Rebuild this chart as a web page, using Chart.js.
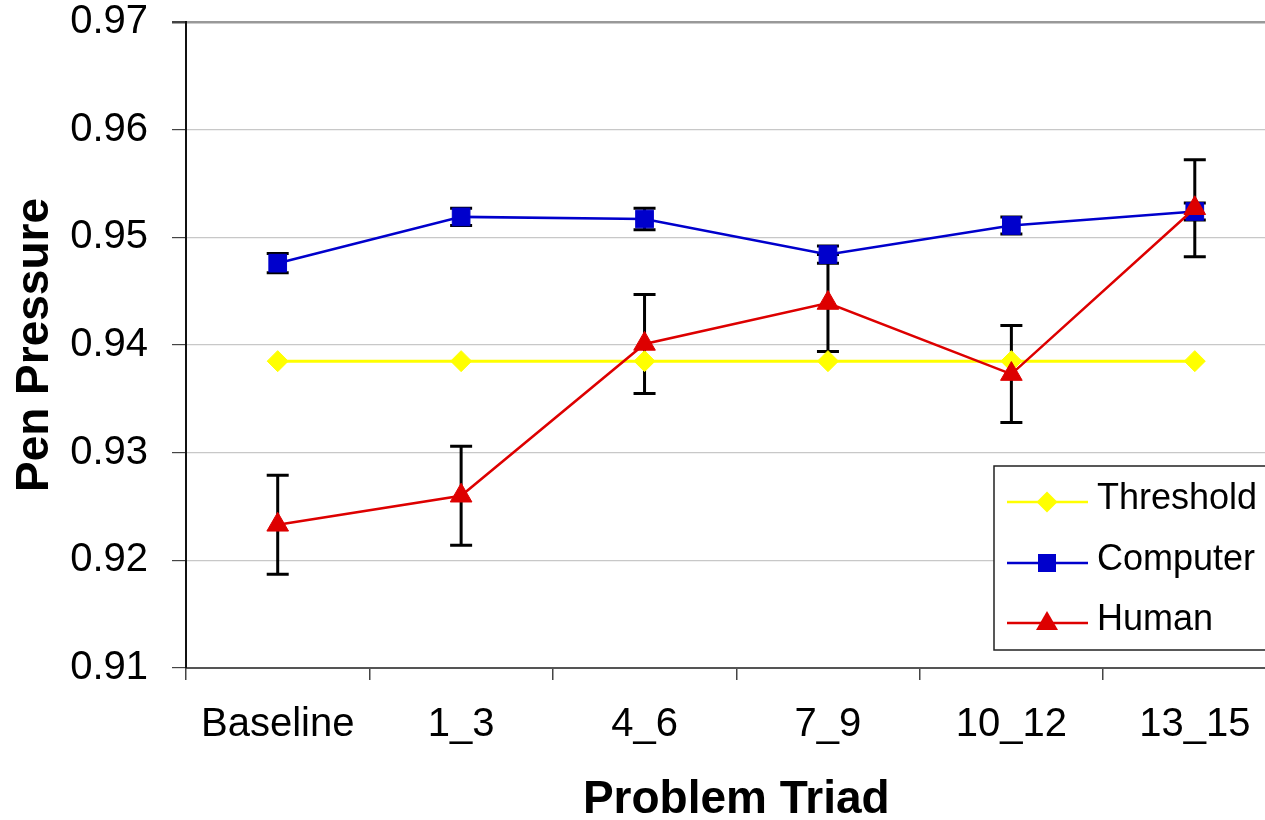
<!DOCTYPE html>
<html>
<head>
<meta charset="utf-8">
<script src="https://cdn.jsdelivr.net/npm/chart.js@4/dist/chart.umd.min.js"></script>
<style>
  html, body { margin: 0; padding: 0; overflow: hidden; background: #fff; width: 1265px; height: 820px; }
  canvas { display: block; }
</style>
</head>
<body>
<canvas id="c" width="1300" height="820" style="width:1300px;height:820px"></canvas>
<script>
// ---- data ----
const categories = ['Baseline', '1_3', '4_6', '7_9', '10_12', '13_15'];
const seriesNames = ['Threshold', 'Computer', 'Human'];
const thresholdValues = [0.9385, 0.9385, 0.9385, 0.9385, 0.9385, 0.9385];
const computerValues = [0.9476, 0.9519, 0.9517, 0.9484, 0.9511, 0.9524];
const computerErrors = [0.0009, 0.0008, 0.0010, 0.0008, 0.0008, 0.0008];
const humanValues = [0.9233, 0.9260, 0.9401, 0.9439, 0.9373, 0.9527];
const humanErrors = [0.0046, 0.0046, 0.0046, 0.0045, 0.0045, 0.0045];
const yTickValues = [0.91, 0.92, 0.93, 0.94, 0.95, 0.96, 0.97];
const xTitle = 'Problem Triad';
const yTitle = 'Pen Pressure';

const FONT = "'Liberation Sans', Arial, sans-serif";
const YELLOW = '#FFFF00', BLUE = '#0000CC', RED = '#DD0000';

const errorBarPlugin = {
  id: 'errorBars',
  beforeDatasetsDraw(chart) {
    const ctx = chart.ctx;
    const xs = chart.scales.x, ys = chart.scales.y;
    ctx.save();
    ctx.strokeStyle = '#000';
    ctx.lineWidth = 3;
    chart.data.datasets.forEach(ds => {
      if (!ds.errors) return;
      ds.data.forEach((v, i) => {
        const e = ds.errors[i];
        const x = xs.getPixelForValue(i);
        const y1 = ys.getPixelForValue(v + e);
        const y2 = ys.getPixelForValue(v - e);
        ctx.beginPath();
        ctx.moveTo(x, y1); ctx.lineTo(x, y2);
        ctx.moveTo(x - 11, y1); ctx.lineTo(x + 11, y1);
        ctx.moveTo(x - 11, y2); ctx.lineTo(x + 11, y2);
        ctx.stroke();
      });
    });
    ctx.restore();
  }
};

function drawMarker(ctx, style, x, y, color) {
  ctx.fillStyle = color;
  ctx.beginPath();
  if (style === 'rectRot') {
    const r = 10.5;
    ctx.moveTo(x - r, y); ctx.lineTo(x, y - r); ctx.lineTo(x + r, y); ctx.lineTo(x, y + r);
  } else if (style === 'rect') {
    ctx.rect(x - 9, y - 9, 18, 18);
  } else {
    ctx.moveTo(x, y - 12); ctx.lineTo(x + 11, y + 7); ctx.lineTo(x - 11, y + 7);
  }
  ctx.closePath();
  ctx.fill();
}

const legendPlugin = {
  id: 'boxLegend',
  afterDraw(chart) {
    const ctx = chart.ctx;
    ctx.save();
    const bx = 994, by = 466, bw = 400, bh = 184;
    ctx.fillStyle = '#fff';
    ctx.fillRect(bx, by, bw, bh);
    ctx.strokeStyle = '#222';
    ctx.lineWidth = 1.5;
    ctx.strokeRect(bx, by, bw, bh);
    const order = [2, 1, 0]; // dataset indices for Threshold, Computer, Human
    const rowY = [502, 563, 623];
    order.forEach((di, k) => {
      const ds = chart.data.datasets[di];
      const y = rowY[k];
      ctx.strokeStyle = ds.borderColor;
      ctx.lineWidth = 2.5;
      ctx.beginPath();
      ctx.moveTo(1007, y); ctx.lineTo(1088, y);
      ctx.stroke();
      drawMarker(ctx, ds.pointStyle, 1047, y, ds.pointBackgroundColor);
      ctx.fillStyle = '#000';
      ctx.font = '36px ' + FONT;
      ctx.textAlign = 'left';
      ctx.textBaseline = 'middle';
      ctx.fillText(ds.label, 1097, y - 3);
    });
    ctx.restore();
  }
};

new Chart(document.getElementById('c'), {
  type: 'line',
  data: {
    labels: categories,
    datasets: [
      {
        label: seriesNames[2], data: humanValues, errors: humanErrors, order: 1,
        borderColor: RED, backgroundColor: RED, borderWidth: 2.5,
        pointStyle: 'triangle', pointRadius: 12.5, pointBackgroundColor: RED, pointBorderColor: RED, pointBorderWidth: 1,
        tension: 0
      },
      {
        label: seriesNames[1], data: computerValues, errors: computerErrors, order: 2,
        borderColor: BLUE, backgroundColor: BLUE, borderWidth: 2.5,
        pointStyle: 'rect', pointRadius: 12.5, pointBackgroundColor: BLUE, pointBorderColor: BLUE, pointBorderWidth: 1,
        tension: 0
      },
      {
        label: seriesNames[0], data: thresholdValues, order: 3,
        borderColor: YELLOW, backgroundColor: YELLOW, borderWidth: 3,
        pointStyle: 'rectRot', pointRadius: 10.5, pointBackgroundColor: YELLOW, pointBorderColor: YELLOW, pointBorderWidth: 1,
        tension: 0
      }
    ]
  },
  options: {
    responsive: false,
    animation: false,
    devicePixelRatio: 1,
    layout: { padding: { left: 0, top: 0, right: 10, bottom: 0 } },
    plugins: { legend: { display: false }, tooltip: { enabled: false } },
    scales: {
      x: {
        type: 'category',
        offset: true,
        grid: { display: true, drawOnChartArea: false, drawTicks: true, tickLength: 12, color: '#444', lineWidth: 1.5, offset: true },
        border: { display: true, color: '#555', width: 2 },
        ticks: { color: '#000', font: { family: FONT, size: 40, lineHeight: 1.2 }, padding: 21, maxRotation: 0, autoSkip: false },
        title: { display: true, text: xTitle, color: '#000', font: { family: FONT, size: 46, weight: 'bold', lineHeight: 0.8 }, padding: { top: 0, bottom: 1 } },
        afterFit(scale) { scale.height = 152; scale.paddingLeft = 0; scale.paddingRight = 0; }
      },
      y: {
        type: 'linear',
        min: yTickValues[0],
        max: yTickValues[yTickValues.length - 1],
        afterBuildTicks(scale) { scale.ticks = yTickValues.map(v => ({ value: v })); },
        grid: {
          drawTicks: true, tickLength: 14,
          color: c => (c.tick && Math.abs(c.tick.value - 0.97) < 1e-9) ? '#999' : '#c8c8c8',
          lineWidth: c => (c.tick && Math.abs(c.tick.value - 0.97) < 1e-9) ? 2.5 : 1.2,
          tickColor: '#444'
        },
        border: { display: true, color: '#111', width: 2 },
        ticks: { color: '#000', font: { family: FONT, size: 40, lineHeight: 1.0 }, padding: 24, callback: v => Number(v).toFixed(2) },
        title: { display: true, text: yTitle, color: '#000', font: { family: FONT, size: 46, weight: 'bold', lineHeight: 1.2 }, padding: { top: 8, bottom: 0 } },
        afterFit(scale) { scale.width = 186; scale.paddingTop = 22; scale.paddingBottom = 0; }
      }
    }
  },
  plugins: [errorBarPlugin, legendPlugin]
});
</script>
</body>
</html>
